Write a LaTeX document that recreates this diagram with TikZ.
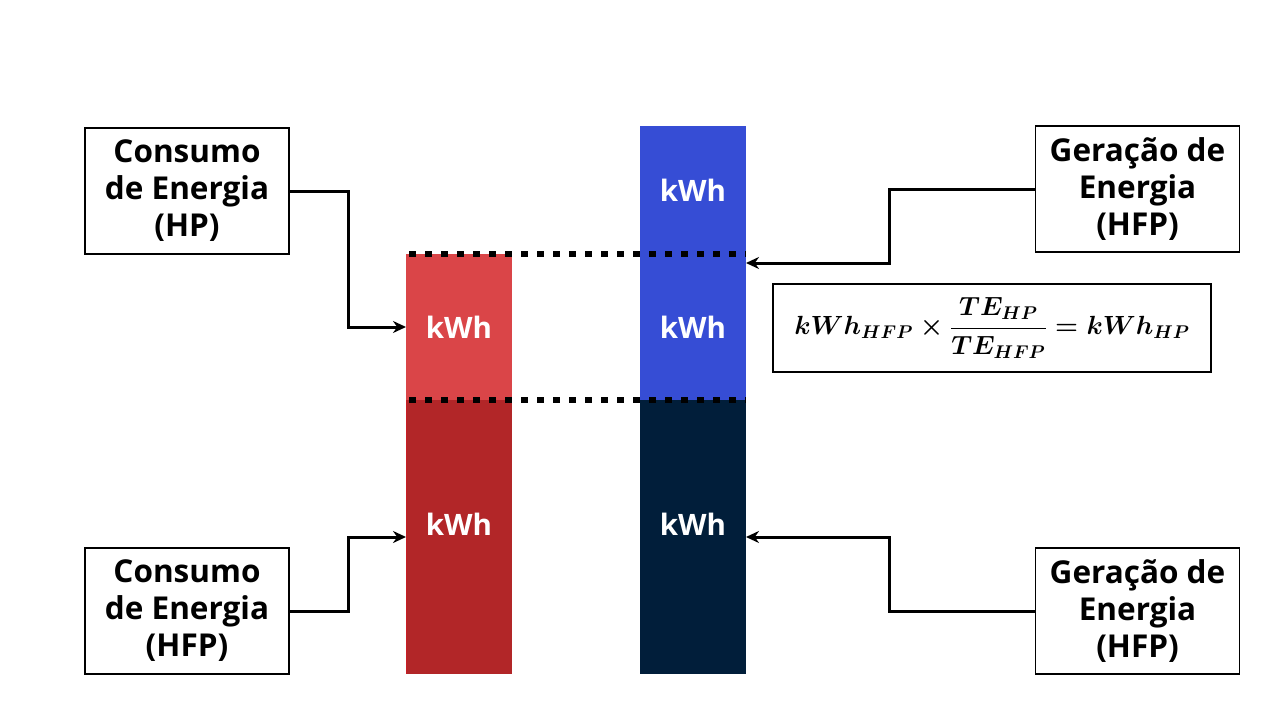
\RequirePackage{fix-cm}
\documentclass[tikz,border=0pt]{standalone}
\usepackage{amsmath}
\usepackage[no-math]{fontspec}
\setmainfont{Open Sans}
\usetikzlibrary{arrows.meta}
\definecolor{redlight}{HTML}{DA4548}
\definecolor{reddark}{HTML}{B22628}
\definecolor{redline}{HTML}{C81E24}
\definecolor{bluebar}{HTML}{364DD5}
\definecolor{navybar}{HTML}{011E3A}
\newcommand{\myformula}{\mbox{\fontsize{26.3}{32}\selectfont\boldmath$kWh_{HFP}\times\dfrac{TE_{HP}}{TE_{HFP}}=kWh_{HP}$}}
\begin{document}
\begin{tikzpicture}[x=1pt,y=-1pt,
  lbl/.style={draw=black, line width=1.3pt, minimum width=204pt, minimum height=126pt,
    align=center, inner sep=0pt, font=\fontsize{31.5}{37}\selectfont\bfseries},
  bar/.style={inner sep=0pt, minimum width=106pt, outer sep=0pt},
  kwh/.style={text=white, font=\fontsize{29.5}{34}\selectfont\bfseries, inner sep=0pt},
  dotline/.style={draw=black, line width=6.5pt, dash pattern=on 7pt off 9pt},
  conn/.style={draw=black, line width=3pt, -{Stealth[length=13pt,width=12pt]}},
  eqbox/.style={draw=black, line width=1.3pt, minimum width=438pt, minimum height=88pt, inner sep=0pt}]
\useasboundingbox (0,0) rectangle (1280,720);
% bars
\node[bar, fill=redlight, minimum height=146pt] (r1) at (459,327) {};
\node[bar, fill=reddark, minimum height=274pt] (r2) at (459,537) {};
\node[bar, fill=bluebar, minimum height=127pt] (b1) at (693,189.5) {};
\node[bar, fill=bluebar, minimum height=147pt] (b2) at (693,326.5) {};
\node[bar, fill=navybar, minimum height=274pt] (n1) at (693,537) {};
\draw[redline, line width=1.2pt] ([xshift=0.6pt]r2.north west) -- ([xshift=0.6pt]r2.south west);
% kWh labels
\node[kwh] (k1) at (459,327) {kWh};
\node[kwh] (k2) at (459,524) {kWh};
\node[kwh] (k3) at (693,190) {kWh};
\node[kwh] (k4) at (693,327) {kWh};
\node[kwh] (k5) at (693,524) {kWh};
% dotted lines
\draw[dotline] ([xshift=3pt]r1.north west) -- (r1.north west -| b2.north east);
\draw[dotline] ([xshift=3pt]r2.north west) -- (r2.north west -| n1.north east);
% label boxes
\node[lbl] (tl) at (187,191) {Consumo\\de Energia\\(HP)};
\node[lbl] (bl) at (187,611) {Consumo\\de Energia\\(HFP)};
\node[lbl] (tr) at (1137.5,189) {Geração de\\Energia\\(HFP)};
\node[lbl] (br) at (1137.5,611) {Geração de\\Energia\\(HFP)};
% formula
\node[eqbox] (eq) at (992,328) {\myformula};
% connectors
\draw[conn] (tl.east) -- ++(59,0) |- (r1.west);
\draw[conn] (bl.east) -- ++(59,0) |- (r2.west);
\coordinate (c2) at ([yshift=-10pt]b2.north east);
\draw[conn] (tr.west) -- ++(-145,0) |- (c2);
\draw[conn] (br.west) -- ++(-145,0) |- (n1.east);
\end{tikzpicture}
\end{document}
